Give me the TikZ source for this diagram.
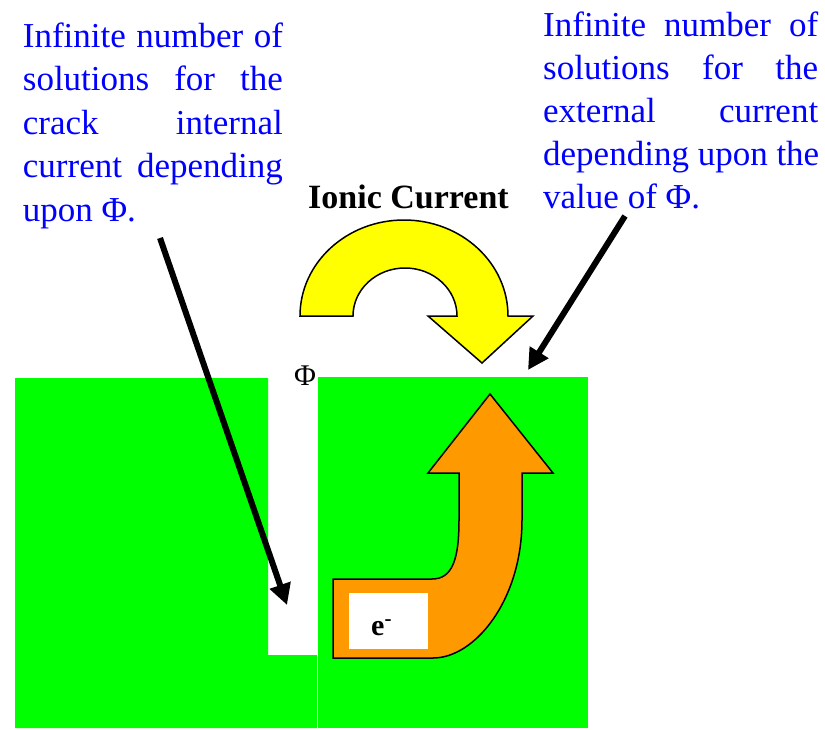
\documentclass[tikz,border=0pt]{standalone}
\usepackage{fontspec}
\setmainfont{Liberation Serif}
\usetikzlibrary{arrows.meta}
\definecolor{bluetxt}{RGB}{0,0,255}
\definecolor{grn}{RGB}{0,255,0}
\definecolor{yel}{RGB}{255,255,0}
\definecolor{org}{RGB}{255,153,0}
\newcommand\jl[2]{\hbox to #1{\spaceskip=0.25em plus 1fil\relax #2}}
\tikzset{
  bluepara/.style={anchor=base west, inner sep=0pt, text=bluetxt, font=\fontsize{35}{43.5}\selectfont},
  pointer/.style={line width=6pt, -{Triangle[length=21pt,width=21pt]}},
  bigarrow/.style={draw=black, line width=1.5pt, line join=miter},
}
\begin{document}
\begin{tikzpicture}[x=1pt,y=-1pt]
\useasboundingbox (0,0) rectangle (825,729);
% metal blocks
\fill[grn] (15,378) -- (268,378) -- (268,655) -- (317,655) -- (317,728) -- (15,728) -- cycle;
\fill[grn] (318,377) rectangle (588,728);
% yellow ionic current arrow
\path[bigarrow, fill=yel] (300,316) arc[start angle=180, end angle=360, x radius=104, y radius=96]
  -- (533,316) -- (482,363) -- (428,316) -- (457,316)
  arc[start angle=0, end angle=-180, x radius=52, y radius=48] -- cycle;
% orange electron arrow
\path[bigarrow, fill=org] (490,394) -- (553,473) -- (522,473) -- (522,520)
  .. controls (522,600) and (475,658) .. (433,658) -- (333,658) -- (333,579) -- (432,579)
  .. controls (452,579) and (459,560) .. (459,520) -- (459,473) -- (428,473) -- cycle;
\node[fill=white, inner sep=0pt, minimum width=79pt, minimum height=56pt] (ebox) at (388.5,621) {};
\node[anchor=base west, inner sep=0pt, font=\fontsize{30}{36}\selectfont\bfseries] (etxt) at (371,635) {e\textsuperscript{-}};
% labels
\node[anchor=base, inner sep=0pt, font=\fontsize{30}{36}\selectfont] (phi) at (305,385) {Φ};
\node[anchor=base west, inner sep=0pt, font=\fontsize{34}{40}\selectfont\bfseries] (ionic) at (308,208) {Ionic Current};
\node[bluepara] (lefttext) at (22.7,47) {\vtop{\baselineskip=43.5pt
  \jl{260pt}{Infinite number of}
  \jl{260pt}{solutions for the}
  \jl{260pt}{crack internal}
  \jl{260pt}{current depending}
  \hbox{upon Φ.}}};
\node[bluepara] (righttext) at (543,36) {\vtop{\baselineskip=43.2pt
  \jl{275pt}{Infinite number of}
  \jl{275pt}{solutions for the}
  \jl{275pt}{external current}
  \jl{275pt}{depending upon the}
  \hbox{value of Φ.}}};
% pointers
\coordinate (p1s) at (160,238);
\coordinate (p1e) at (287,605);
\coordinate (p2s) at (625,216);
\coordinate (p2e) at (528,370);
\draw[pointer] (p1s) -- (p1e);
\draw[pointer] (p2s) -- (p2e);
\end{tikzpicture}
\end{document}
